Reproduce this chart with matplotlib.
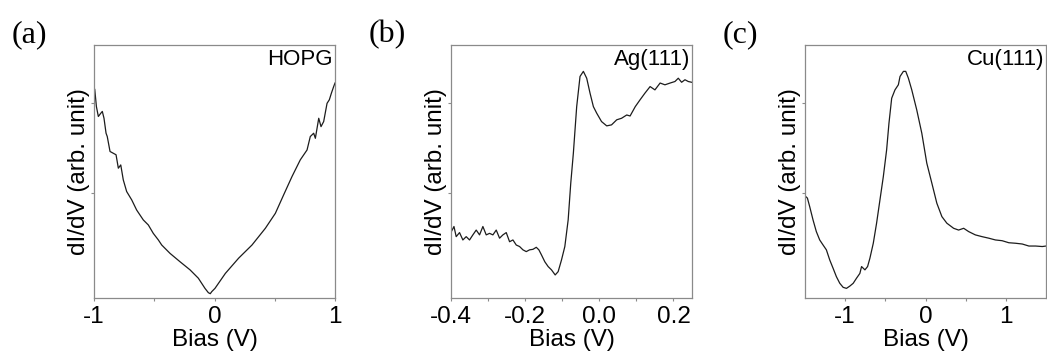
import matplotlib
matplotlib.use("Agg")
import matplotlib.pyplot as plt
from matplotlib.ticker import FixedLocator

plt.rcParams["font.family"] = ["Liberation Sans", "DejaVu Sans"]
plt.rcParams["axes.unicode_minus"] = False

# ---- HOPG spectrum -------------------------------------------------------
hopg_bias = [-1.0, -0.994, -0.98, -0.964, -0.945, -0.931, -0.917, -0.9, -0.89,
             -0.867, -0.84, -0.817, -0.798, -0.778, -0.757, -0.729, -0.687,
             -0.646, -0.591, -0.549, -0.508, -0.466, -0.438, -0.369, -0.286,
             -0.203, -0.134, -0.079, -0.051, -0.035, -0.023, 0.004, 0.09, 0.2,
             0.311, 0.422, 0.505, 0.574, 0.643, 0.712, 0.768, 0.795, 0.823,
             0.837, 0.865, 0.884, 0.906, 0.934, 0.953, 0.97, 0.989, 1.0]
hopg_didv = [0.80, 0.824, 0.755, 0.716, 0.728, 0.736, 0.709, 0.650, 0.637,
             0.578, 0.571, 0.565, 0.512, 0.525, 0.466, 0.42, 0.387, 0.347,
             0.308, 0.288, 0.255, 0.229, 0.209, 0.176, 0.143, 0.111, 0.078,
             0.038, 0.021, 0.017, 0.025, 0.038, 0.097, 0.157, 0.209, 0.275,
             0.334, 0.407, 0.479, 0.545, 0.584, 0.637, 0.650, 0.630, 0.709,
             0.676, 0.696, 0.768, 0.782, 0.808, 0.834, 0.848]

# ---- Ag(111) spectrum ----------------------------------------------------
ag_bias = [-0.399, -0.392, -0.386, -0.377, -0.368, -0.359, -0.35, -0.341,
           -0.332, -0.323, -0.314, -0.305, -0.296, -0.287, -0.278, -0.269,
           -0.26, -0.251, -0.242, -0.233, -0.224, -0.215, -0.206, -0.197,
           -0.188, -0.179, -0.17, -0.163, -0.156, -0.147, -0.138, -0.129,
           -0.119, -0.111, -0.102, -0.093, -0.084, -0.077, -0.07, -0.061,
           -0.052, -0.043, -0.034, -0.025, -0.016, -0.007, 0.006, 0.02, 0.033,
           0.047, 0.06, 0.074, 0.083, 0.097, 0.11, 0.123, 0.137, 0.15, 0.164,
           0.177, 0.191, 0.204, 0.213, 0.222, 0.231, 0.24, 0.249]
ag_didv = [0.262, 0.282, 0.242, 0.258, 0.229, 0.242, 0.229, 0.249, 0.268,
           0.249, 0.282, 0.249, 0.255, 0.249, 0.268, 0.236, 0.249, 0.258,
           0.222, 0.229, 0.209, 0.203, 0.190, 0.183, 0.190, 0.192, 0.200,
           0.190, 0.170, 0.143, 0.124, 0.111, 0.091, 0.104, 0.150, 0.203,
           0.308, 0.453, 0.571, 0.755, 0.874, 0.894, 0.867, 0.808, 0.755,
           0.729, 0.696, 0.679, 0.683, 0.703, 0.709, 0.722, 0.718, 0.755,
           0.782, 0.808, 0.834, 0.821, 0.848, 0.841, 0.848, 0.854, 0.867,
           0.851, 0.861, 0.854, 0.851]

# ---- Cu(111) spectrum ----------------------------------------------------
cu_bias = [-1.5, -1.47, -1.442, -1.4, -1.359, -1.317, -1.275, -1.234, -1.192,
           -1.15, -1.109, -1.067, -1.025, -0.984, -0.942, -0.9, -0.859, -0.817,
           -0.796, -0.754, -0.721, -0.692, -0.65, -0.609, -0.567, -0.525,
           -0.484, -0.455, -0.421, -0.38, -0.338, -0.317, -0.275, -0.246,
           -0.213, -0.171, -0.109, -0.046, 0.016, 0.079, 0.141, 0.204, 0.266,
           0.35, 0.412, 0.475, 0.537, 0.62, 0.704, 0.787, 0.87, 0.954, 1.037,
           1.12, 1.204, 1.287, 1.37, 1.454, 1.5]
cu_didv = [0.403, 0.394, 0.361, 0.308, 0.262, 0.229, 0.209, 0.190, 0.150,
           0.117, 0.084, 0.058, 0.042, 0.038, 0.047, 0.058, 0.078, 0.097,
           0.124, 0.111, 0.124, 0.157, 0.216, 0.295, 0.387, 0.479, 0.584,
           0.689, 0.788, 0.821, 0.841, 0.874, 0.894, 0.894, 0.867, 0.821,
           0.742, 0.650, 0.532, 0.453, 0.374, 0.321, 0.295, 0.275, 0.268,
           0.275, 0.262, 0.249, 0.242, 0.236, 0.229, 0.226, 0.218, 0.216,
           0.213, 0.205, 0.205, 0.203, 0.205]

panels = [
    dict(tag="(a)", name="HOPG", x=hopg_bias, y=hopg_didv, xlim=(-1.0, 1.0),
         major=[-1, 0, 1], labels=["-1", "0", "1"], minor=[-0.5, 0.5]),
    dict(tag="(b)", name="Ag(111)", x=ag_bias, y=ag_didv, xlim=(-0.4, 0.25),
         major=[-0.4, -0.2, 0.0, 0.2], labels=["-0.4", "-0.2", "0.0", "0.2"],
         minor=[-0.3, -0.1, 0.1]),
    dict(tag="(c)", name="Cu(111)", x=cu_bias, y=cu_didv, xlim=(-1.5, 1.5),
         major=[-1, 0, 1], labels=["-1", "0", "1"], minor=[-0.5, 0.5]),
]

W, H = 1047, 356
fig = plt.figure(figsize=(W / 100, H / 100), dpi=100)

lefts = [94, 451, 805]
ax_w, ax_top, ax_bot = 241, 44.5, 298
spine_col = "#8a8a8a"
fs = 17.5

for left, p in zip(lefts, panels):
    ax = fig.add_axes([left / W, 1 - ax_bot / H, ax_w / W, (ax_bot - ax_top) / H])
    ax.plot(p["x"], p["y"], color="#1c1c1c", lw=0.9)
    ax.set_xlim(*p["xlim"])
    ax.set_ylim(0, 1)
    ax.xaxis.set_major_locator(FixedLocator(p["major"]))
    ax.set_xticklabels(p["labels"])
    ax.xaxis.set_minor_locator(FixedLocator(p["minor"]))
    ax.set_yticks([0.415, 0.77])
    ax.set_yticklabels([])
    for s in ax.spines.values():
        s.set_color(spine_col)
        s.set_linewidth(0.9)
    ax.tick_params(axis="both", which="both", direction="out", length=2.2,
                   width=0.8, color=spine_col, labelsize=fs, pad=3.5)
    ax.tick_params(axis="y", which="both", left=True, right=False)
    ax.set_xlabel("Bias (V)", fontsize=fs, labelpad=0.5)
    ax.set_ylabel("dI/dV (arb. unit)", fontsize=fs, labelpad=-3)
    ax.text(0.992, 0.982, p["name"], transform=ax.transAxes, ha="right",
            va="top", fontsize=16)
    fig.text((left - 82) / W, 1 - 20 / H, p["tag"], ha="left", va="top",
             fontsize=23, family=["Liberation Serif", "DejaVu Serif"])

fig.savefig("out.png", dpi=100)
